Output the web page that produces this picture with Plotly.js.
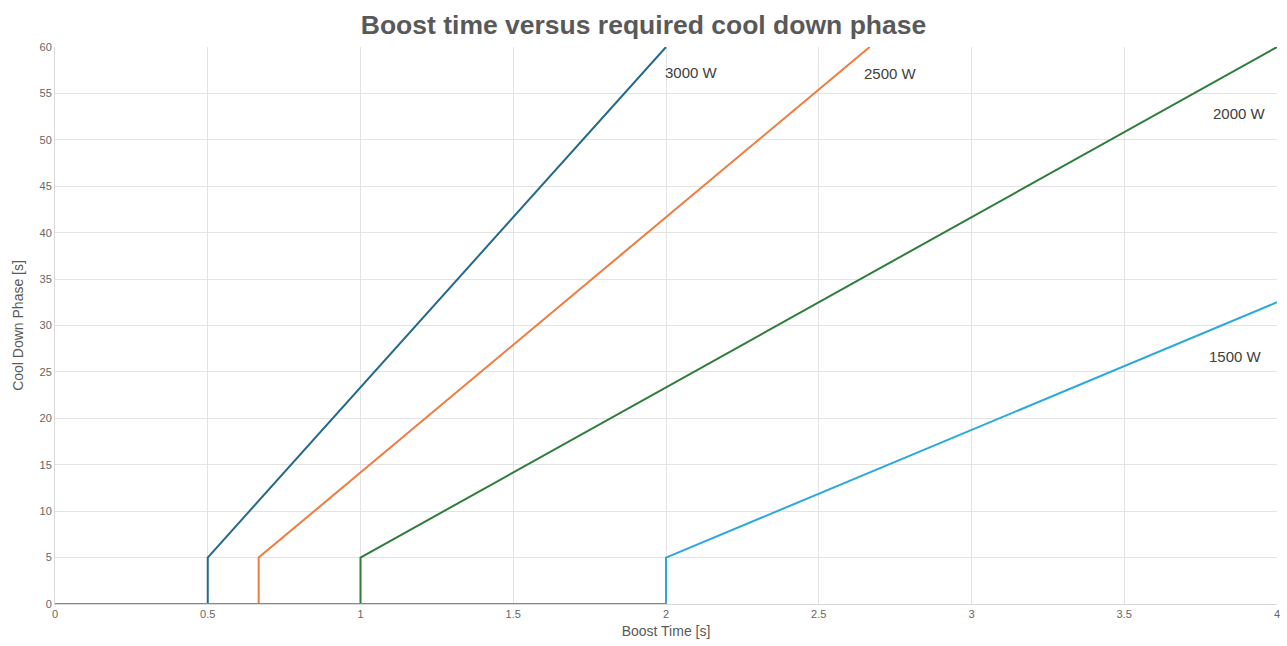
<!DOCTYPE html>
<html>
<head>
<meta charset="utf-8">
<script src="https://cdn.plot.ly/plotly-3.0.1.min.js"></script>
<style>html,body{margin:0;padding:0;background:#fff;}#chart{width:1287px;height:646px;}</style>
</head>
<body>
<div id="chart"></div>
<script>
const seriesNames = ["3000 W", "2500 W", "2000 W", "1500 W"];
const x3000 = [0, 0.5, 0.5, 2];
const y3000 = [0, 0, 5, 60];
const x2500 = [0, 0.6667, 0.6667, 2.6667];
const y2500 = [0, 0, 5, 60];
const x2000 = [0, 1, 1, 4];
const y2000 = [0, 0, 5, 60];
const x1500 = [0, 2, 2, 4];
const y1500 = [0, 0, 5, 32.5];
const colors = ["#22698A", "#F07B3F", "#2E7D3A", "#2AA8DE"];
const labelX = [1.99, 2.64, 3.785, 3.77];
const labelY = [57.3, 57.1, 52.8, 26.7];

const FONT = '"Liberation Sans", Arial, sans-serif';
const xs = [x3000, x2500, x2000, x1500];
const ys = [y3000, y2500, y2000, y1500];
const traces = xs.map((x, i) => ({
  x: x, y: ys[i], type: 'scatter', mode: 'lines', name: seriesNames[i],
  line: {color: colors[i], width: 2}, hoverinfo: 'x+y'
}));

const annotations = seriesNames.map((n, i) => ({
  x: labelX[i], y: labelY[i], xref: 'x', yref: 'y', text: n, showarrow: false,
  xanchor: 'left', yanchor: 'middle', font: {family: FONT, size: 15, color: '#404040'}
}));

const layout = {
  width: 1287, height: 646,
  margin: {l: 55, r: 10, t: 47, b: 42},
  paper_bgcolor: '#fff', plot_bgcolor: '#fff',
  showlegend: false,
  title: {text: '<b>Boost time versus required cool down phase</b>', x: 0.5, xanchor: 'center', y: 0.962, yanchor: 'middle',
    font: {family: FONT, size: 26.5, color: '#595959'}},
  xaxis: {range: [0, 4], dtick: 0.5, showgrid: true, gridcolor: '#e3e3e3', zeroline: false,
    showline: true, linecolor: '#d9d9d9', ticks: '', layer: 'below traces',
    tickfont: {family: FONT, size: 11, color: '#666'},
    title: {text: 'Boost Time [s]', standoff: 6, font: {family: FONT, size: 14, color: '#595959'}}},
  yaxis: {range: [0, 60], dtick: 5, showgrid: true, gridcolor: '#e3e3e3', zeroline: false,
    showline: true, linecolor: '#d9d9d9', ticks: '', layer: 'below traces',
    tickfont: {family: FONT, size: 11, color: '#666'},
    title: {text: 'Cool Down Phase [s]', standoff: 12, font: {family: FONT, size: 14, color: '#595959'}}},
  annotations: annotations
};

Plotly.newPlot('chart', traces, layout, {displayModeBar: false});
</script>
</body>
</html>
